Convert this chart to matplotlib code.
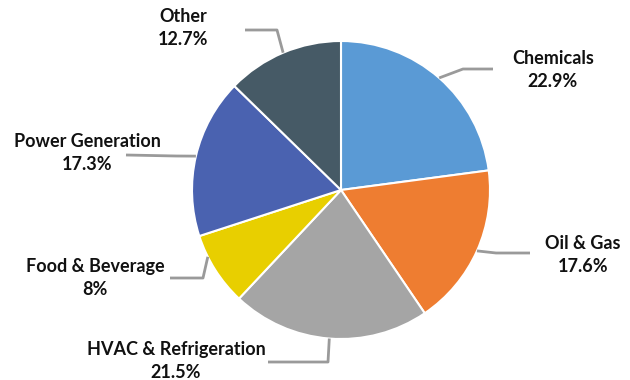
import numpy as np
import matplotlib
matplotlib.use("Agg")
import matplotlib.pyplot as plt

labels = ["Chemicals", "Oil & Gas", "HVAC & Refrigeration", "Food & Beverage",
          "Power Generation", "Other"]
shares = [22.9, 17.6, 21.5, 8, 17.3, 12.7]
pct_text = ["22.9%", "17.6%", "21.5%", "8%", "17.3%", "12.7%"]
colors = ["#5A9AD5", "#EE7D31", "#A5A5A5", "#E8CF00", "#4A62B0", "#465A66"]

plt.rcParams['font.family'] = ['Lato', 'DejaVu Sans']

W, H = 630, 380
fig = plt.figure(figsize=(W / 100, H / 100), dpi=100)
ax = fig.add_axes([0, 0, 1, 1])

cx, cy, r = 341, H - 190, 149
wedges, _ = ax.pie(shares, colors=colors, startangle=90, counterclock=False,
                   center=(cx, cy), radius=r, frame=True,
                   wedgeprops=dict(edgecolor="white", linewidth=1.5))
ax.set_xlim(0, W)
ax.set_ylim(0, H)
ax.set_aspect("equal")
ax.axis("off")

# leader layout per slice: elbow point, end of horizontal run, label centre
# (pixel space, y measured from the top)
layout = [
    dict(elbow=(463, 69), end=(493, 69), text=(553, 70)),
    dict(elbow=(496, 253), end=(530, 253), text=(583, 255)),
    dict(elbow=(328, 362), end=(268, 362), text=(176, 361)),
    dict(elbow=(203, 278), end=(170, 278), text=(95, 278)),
    dict(elbow=(176, 156), end=(126, 155), text=(87, 153)),
    dict(elbow=(277, 30), end=(245, 30), text=(183, 28)),
]
anchors = [0.5, 0.5, 0.5, 0.3, 0.5, 0.5]

for w, lab, pct, lay, f in zip(wedges, labels, pct_text, layout, anchors):
    ang = np.deg2rad(w.theta2 + (w.theta1 - w.theta2) * (1 - f))
    px, py = cx + r * np.cos(ang), cy + r * np.sin(ang)
    ex, ey = lay["elbow"]
    hx, hy = lay["end"]
    ax.plot([px, ex, hx], [py, H - ey, H - hy], color="#9A9A9A", lw=2,
            solid_capstyle="butt", zorder=3)
    tx, ty = lay["text"]
    ax.text(tx, H - ty, lab + "\n" + pct, ha="center", va="center",
            fontsize=13, fontweight="bold", color="#111111", linespacing=1.45)

fig.savefig("out.png", dpi=100)
